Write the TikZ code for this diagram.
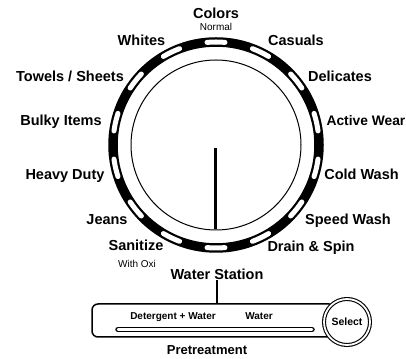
\documentclass[tikz,border=0pt]{standalone}
\usepackage{fontspec}
\setmainfont{Liberation Sans}
\usepackage{tikz}

\begin{document}
\begin{tikzpicture}[x=1pt,y=1pt,
  lbl/.style={inner sep=0pt,anchor=base,font=\bfseries\fontsize{14.5}{17}\selectfont},
  sub/.style={inner sep=0pt,anchor=base,font=\fontsize{10}{12}\selectfont},
  small/.style={inner sep=0pt,anchor=base,font=\bfseries\fontsize{10}{12}\selectfont}]
\useasboundingbox (0,0) rectangle (406,358);
% dial
\coordinate (c) at (216,213);
\draw[line width=9.5pt] (c) circle (103pt);
\foreach \a in {0,...,13}
  \draw[white,line width=5pt,line cap=round] ([shift={(c)}]90-\a*360/14-5:103pt) arc[start angle=90-\a*360/14-5,end angle=90-\a*360/14+5,radius=103pt];
\draw[line width=1pt] (c) circle (85pt);
\coordinate (p1) at (215,210);\coordinate (p2) at (215,129);
\draw[line width=3pt] (p1)--(p2);
% cycle labels
\node[lbl] (colors) at (216,339) {Colors};\node[sub] (normal) at (216,327) {Normal};
\node[lbl] (whites) at (141.5,312) {Whites};\node[lbl] (casuals) at (296,312) {Casuals};
\node[lbl] (towels) at (70,276) {Towels / Sheets};\node[lbl] (delicates) at (340,276) {Delicates};
\node[lbl] (bulky) at (61,232) {Bulky Items};
\node[lbl,anchor=base east,font=\bfseries\fontsize{13.8}{17}\selectfont] (active) at (405.5,232) {Active Wear};
\node[lbl] (heavy) at (65,178) {Heavy Duty};\node[lbl] (cold) at (361.5,178) {Cold Wash};
\node[lbl] (jeans) at (107,133) {Jeans};\node[lbl] (speed) at (348,133) {Speed Wash};
\node[lbl] (sanitize) at (136,107) {Sanitize};\node[sub] (oxi) at (137,90) {With Oxi};
\node[lbl] (drain) at (311,106) {Drain \& Spin};
\node[lbl] (station) at (217,78) {Water Station};
% pretreatment
\node[draw,rounded corners=6pt,line width=1.5pt,minimum width=243pt,minimum height=33pt,inner sep=0pt] (box) at (213.5,37.5) {};
\draw[line width=5.5pt,line cap=round] (118,28.5)--(312,28.5);
\draw[white,line width=2.5pt,line cap=round] (118,28.5)--(312,28.5);
\node[small] (detwater) at (173,38) {Detergent + Water};
\node[small] (water) at (259,38) {Water};
\node[circle,draw,double,double distance=1.8pt,line width=1.1pt,fill=white,minimum size=46pt,inner sep=0pt,font=\bfseries\fontsize{10.5}{12}\selectfont] (select) at (347,36) {Select};
\node[lbl,font=\bfseries\fontsize{13}{15}\selectfont] (pretreat) at (207,4) {Pretreatment};
\draw[line width=1.2pt] (station.south)--(station.south |- box.north);
\end{tikzpicture}
\end{document}
